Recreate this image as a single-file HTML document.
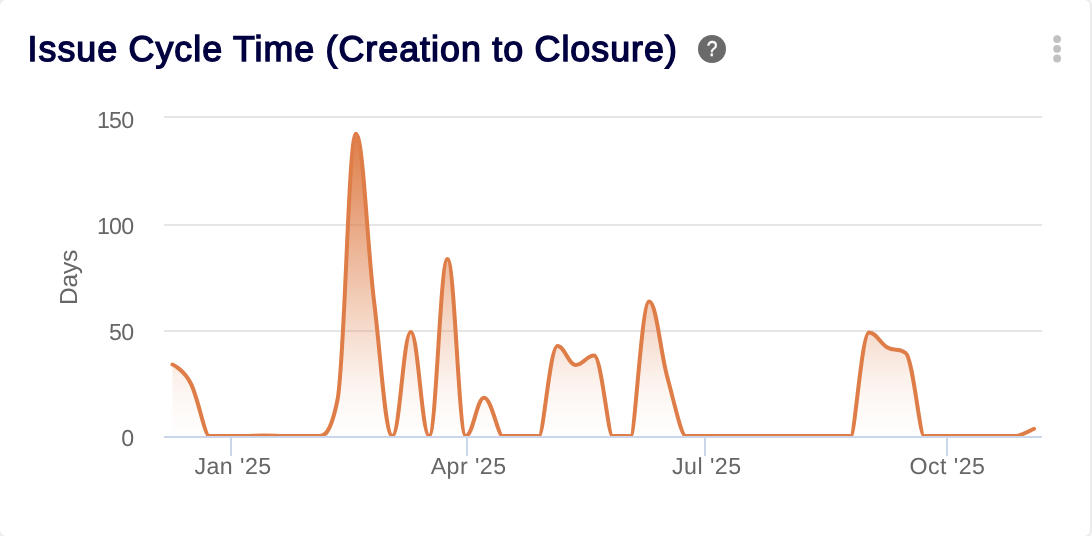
<!DOCTYPE html>
<html lang="en">
<head>
<meta charset="utf-8">
<title>Issue Cycle Time (Creation to Closure)</title>
<style>
  html, body { margin: 0; padding: 0; }
  body { width: 1092px; height: 536px; overflow: hidden; background: #f8f9fa;
         font-family: "Liberation Sans", sans-serif; }
  .card { position: absolute; left: -2px; top: -2px; width: 1090px; height: 536px;
          box-sizing: content-box; border: 2px solid #ececec;
          background: #ffffff; border-radius: 8px; overflow: hidden; }
  .title { position: absolute; left: 27.6px; top: 27.3px; margin: 0;
           font-size: 35.8px; line-height: 44px; font-weight: 400;
           -webkit-text-stroke: 1.4px #000040;
           letter-spacing: 1.0px; word-spacing: -0.5px;
           color: #000040; white-space: nowrap; text-rendering: geometricPrecision; }
  .help { position: absolute; left: 698px; top: 35px; width: 28px; height: 28px; }
  .menu { position: absolute; left: 1052px; top: 34px; width: 10px; height: 30px; }
  .chart { position: absolute; left: 0; top: 0; width: 1092px; height: 536px; }
  .chart text { font-family: "Liberation Sans", sans-serif; font-size: 23.2px; fill: #666666; text-rendering: geometricPrecision; }
  .chart text.ytitle { font-size: 24.6px; letter-spacing: -0.3px; }
  .chart .ylabels text { letter-spacing: -0.7px; }
  .chart .xlabels text { letter-spacing: 0.45px; }
</style>
</head>
<body>
<div class="card">
  <h2 class="title">Issue Cycle Time (Creation to Closure)</h2>
  <svg class="help" viewBox="0 0 28 28" role="img" aria-label="Help">
    <circle cx="14" cy="14" r="14" fill="#6a6a6a"/>
    <text x="0" y="0" transform="translate(14.1 21.4) scale(0.88 1.03)" text-anchor="middle" font-family="Liberation Sans, sans-serif" font-size="22" fill="#ffffff" stroke="#ffffff" stroke-width="0.4" stroke-linejoin="round">?</text>
  </svg>
  <svg class="menu" viewBox="0 0 10 30" role="img" aria-label="Menu">
    <circle cx="5.1" cy="5.1" r="3.9" fill="#c1c1c1"/>
    <circle cx="5.1" cy="14.8" r="3.9" fill="#c1c1c1"/>
    <circle cx="5.1" cy="24.5" r="3.9" fill="#c1c1c1"/>
  </svg>
  <svg class="chart" viewBox="0 0 1092 536">
    <defs>
      <linearGradient id="areaFill" gradientUnits="userSpaceOnUse" x1="0" y1="133.8" x2="0" y2="436">
        <stop offset="0" stop-color="#de7d47" stop-opacity="1.000"/>
        <stop offset="0.212" stop-color="#de7d47" stop-opacity="0.765"/>
        <stop offset="0.418" stop-color="#de7d47" stop-opacity="0.530"/>
        <stop offset="0.616" stop-color="#de7d47" stop-opacity="0.310"/>
        <stop offset="0.815" stop-color="#de7d47" stop-opacity="0.100"/>
        <stop offset="0.897" stop-color="#de7d47" stop-opacity="0.047"/>
        <stop offset="0.963" stop-color="#de7d47" stop-opacity="0.020"/>
        <stop offset="1" stop-color="#de7d47" stop-opacity="0.000"/>
      </linearGradient>
      <clipPath id="plotClip"><rect x="164.0" y="100" width="878.0" height="336.0"/></clipPath>
    </defs>
    <g class="grid">
      <rect x="164" y="116" width="878" height="2" fill="#e6e6e6"/>
      <rect x="164" y="224" width="878" height="2" fill="#e6e6e6"/>
      <rect x="164" y="330" width="878" height="2" fill="#e6e6e6"/>
    </g>
    <g class="axis">
      <rect x="164.0" y="436" width="878.0" height="2" fill="#ccd6eb"/>
      <rect x="230" y="438" width="2" height="18" fill="#ccd6eb"/>
      <rect x="466" y="438" width="2" height="18" fill="#ccd6eb"/>
      <rect x="704" y="438" width="2" height="18" fill="#ccd6eb"/>
      <rect x="946" y="438" width="2" height="18" fill="#ccd6eb"/>
    </g>
    <g clip-path="url(#plotClip)">
      <path d="M172.50 364.50 C172.50 364.50 183.50 369.20 190.83 383.50 C198.16 397.80 201.83 436.00 209.16 436.00 C216.49 436.00 220.16 436.00 227.49 436.00 C234.82 436.00 238.49 436.00 245.82 436.00 C253.15 436.00 256.82 435.50 264.15 435.50 C271.48 435.50 275.15 436.00 282.48 436.00 C289.81 436.00 293.48 436.00 300.81 436.00 C308.14 436.00 311.81 436.00 319.14 436.00 C326.47 436.00 330.14 436.00 337.47 400.00 C344.80 364.00 348.47 133.80 355.80 133.80 C363.13 133.80 366.80 241.56 374.13 302.00 C381.46 362.44 385.13 436.00 392.46 436.00 C399.79 436.00 403.46 332.00 410.79 332.00 C418.12 332.00 421.79 436.00 429.12 436.00 C436.45 436.00 440.12 259.00 447.45 259.00 C454.78 259.00 458.45 436.00 465.78 436.00 C473.11 436.00 476.78 397.70 484.11 397.70 C491.44 397.70 495.11 436.00 502.44 436.00 C509.77 436.00 513.44 436.00 520.77 436.00 C528.10 436.00 531.77 436.00 539.10 436.00 C546.43 436.00 550.10 346.00 557.43 346.00 C564.76 346.00 568.43 364.90 575.76 364.90 C583.09 364.90 586.76 355.50 594.09 355.50 C601.42 355.50 605.09 436.00 612.42 436.00 C619.75 436.00 623.42 436.00 630.75 436.00 C638.08 436.00 641.75 301.60 649.08 301.60 C656.41 301.60 660.08 350.62 667.41 377.50 C674.74 404.38 678.41 436.00 685.74 436.00 C693.07 436.00 696.74 436.00 704.07 436.00 C711.40 436.00 715.07 436.00 722.40 436.00 C729.73 436.00 733.40 436.00 740.73 436.00 C748.06 436.00 751.73 436.00 759.06 436.00 C766.39 436.00 770.06 436.00 777.39 436.00 C784.72 436.00 788.39 436.00 795.72 436.00 C803.05 436.00 806.72 436.00 814.05 436.00 C821.38 436.00 825.05 436.00 832.38 436.00 C839.71 436.00 843.38 436.00 850.71 436.00 C858.04 436.00 861.71 332.60 869.04 332.60 C876.37 332.60 880.04 343.52 887.37 347.60 C894.70 351.68 898.37 347.60 905.70 353.00 C913.03 358.40 916.70 436.00 924.03 436.00 C931.36 436.00 935.03 436.00 942.36 436.00 C949.69 436.00 953.36 436.00 960.69 436.00 C968.02 436.00 971.69 436.00 979.02 436.00 C986.35 436.00 990.02 436.00 997.35 436.00 C1004.68 436.00 1008.35 436.00 1015.68 436.00 C1023.01 436.00 1034.01 428.80 1034.01 428.80 L1034.01 436.00 L172.50 436.00 Z" fill="url(#areaFill)" stroke="none"/>
      <path d="M172.50 364.50 C172.50 364.50 183.50 369.20 190.83 383.50 C198.16 397.80 204.76 436.00 209.16 436.00 C213.56 436.00 223.09 436.00 227.49 436.00 C231.89 436.00 241.42 436.00 245.82 436.00 C250.22 436.00 256.82 435.50 264.15 435.50 C271.48 435.50 278.08 436.00 282.48 436.00 C286.88 436.00 296.41 436.00 300.81 436.00 C305.21 436.00 314.74 436.00 319.14 436.00 C323.54 436.00 330.14 436.00 337.47 400.00 C344.80 364.00 348.47 133.80 355.80 133.80 C363.13 133.80 366.80 241.56 374.13 302.00 C381.46 362.44 385.13 436.00 392.46 436.00 C399.79 436.00 403.46 332.00 410.79 332.00 C418.12 332.00 421.79 436.00 429.12 436.00 C436.45 436.00 440.12 259.00 447.45 259.00 C454.78 259.00 458.45 436.00 465.78 436.00 C473.11 436.00 476.78 397.70 484.11 397.70 C491.44 397.70 498.04 436.00 502.44 436.00 C506.84 436.00 516.37 436.00 520.77 436.00 C525.17 436.00 534.70 436.00 539.10 436.00 C543.50 436.00 550.10 346.00 557.43 346.00 C564.76 346.00 568.43 364.90 575.76 364.90 C583.09 364.90 586.76 355.50 594.09 355.50 C601.42 355.50 608.02 436.00 612.42 436.00 C616.82 436.00 626.35 436.00 630.75 436.00 C635.15 436.00 641.75 301.60 649.08 301.60 C656.41 301.60 660.08 350.62 667.41 377.50 C674.74 404.38 681.34 436.00 685.74 436.00 C690.14 436.00 699.67 436.00 704.07 436.00 C708.47 436.00 718.00 436.00 722.40 436.00 C726.80 436.00 736.33 436.00 740.73 436.00 C745.13 436.00 754.66 436.00 759.06 436.00 C763.46 436.00 772.99 436.00 777.39 436.00 C781.79 436.00 791.32 436.00 795.72 436.00 C800.12 436.00 809.65 436.00 814.05 436.00 C818.45 436.00 827.98 436.00 832.38 436.00 C836.78 436.00 846.31 436.00 850.71 436.00 C855.11 436.00 861.71 332.60 869.04 332.60 C876.37 332.60 880.04 343.52 887.37 347.60 C894.70 351.68 898.37 347.60 905.70 353.00 C913.03 358.40 919.63 436.00 924.03 436.00 C928.43 436.00 937.96 436.00 942.36 436.00 C946.76 436.00 956.29 436.00 960.69 436.00 C965.09 436.00 974.62 436.00 979.02 436.00 C983.42 436.00 992.95 436.00 997.35 436.00 C1001.75 436.00 1011.28 436.00 1015.68 436.00 C1020.08 436.00 1034.01 428.80 1034.01 428.80" fill="none" stroke="#de7d47" stroke-width="4" stroke-linejoin="round" stroke-linecap="round"/>
    </g>
    <g class="ylabels">
      <text x="133.5" y="128" text-anchor="end">150</text>
      <text x="133.5" y="234" text-anchor="end">100</text>
      <text x="133.5" y="340" text-anchor="end">50</text>
      <text x="133.5" y="446" text-anchor="end">0</text>
    </g>
    <g class="xlabels">
      <text x="233.1" y="474" text-anchor="middle">Jan '25</text>
      <text x="468.6" y="474" text-anchor="middle">Apr '25</text>
      <text x="706.8" y="474" text-anchor="middle">Jul '25</text>
      <text x="947.5" y="474" text-anchor="middle">Oct '25</text>
    </g>
    <text class="ytitle" transform="translate(76.7 277.5) rotate(-90)" text-anchor="middle">Days</text>
  </svg>
</div>
</body>
</html>
